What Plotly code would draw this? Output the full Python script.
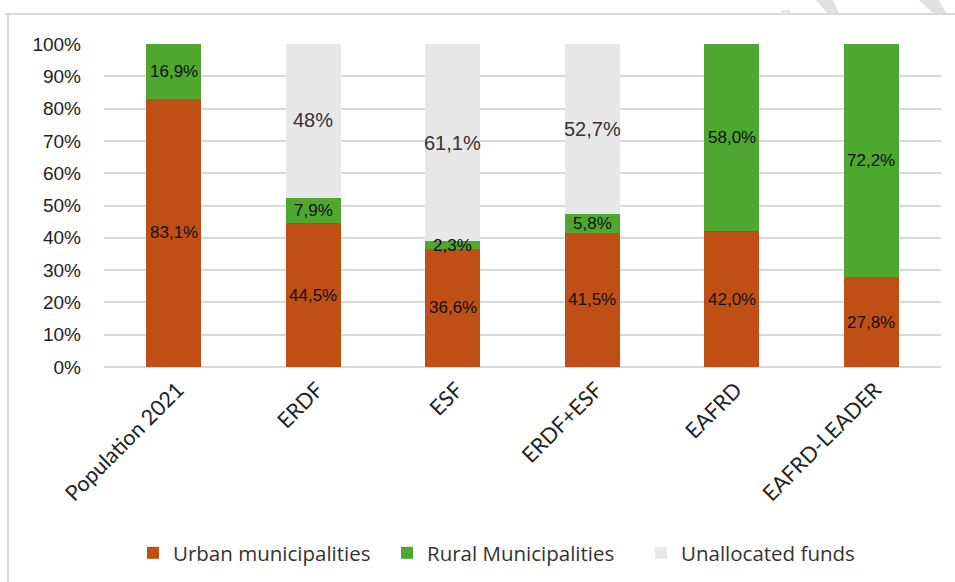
import plotly.graph_objects as go

categories = ["Population 2021", "ERDF", "ESF", "ERDF+ESF", "EAFRD", "EAFRD-LEADER"]
urban = [83.1, 44.5, 36.6, 41.5, 42.0, 27.8]
rural = [16.9, 7.9, 2.3, 5.8, 58.0, 72.2]
unallocated = [0, 48.0, 61.1, 52.7, 0, 0]
unallocated_labels = ["", "48%", "61,1%", "52,7%", "", ""]
tick_vals = [0, 10, 20, 30, 40, 50, 60, 70, 80, 90, 100]
tick_text = [f"{v}%" for v in tick_vals]

C_URBAN = "#C04F15"
C_RURAL = "#4EA72E"
C_UNALL = "#E8E8E8"

W, H = 955, 582
L, R, T, B = 104, 14, 44, 215


def fmt(v):
    return f"{v:.1f}".replace(".", ",") + "%"


fig = go.Figure()
fig.add_trace(go.Bar(name="Urban municipalities", x=categories, y=urban,
                     marker=dict(color=C_URBAN, line=dict(width=0))))
fig.add_trace(go.Bar(name="Rural Municipalities", x=categories, y=rural,
                     marker=dict(color=C_RURAL, line=dict(width=0))))
fig.add_trace(go.Bar(name="Unallocated funds", x=categories, y=unallocated,
                     marker=dict(color=C_UNALL, line=dict(width=0))))

annotations = []
for i, c in enumerate(categories):
    u, r, n = urban[i], rural[i], unallocated[i]
    annotations.append(dict(x=c, y=u / 2, text=fmt(u), showarrow=False,
                            font=dict(family="Liberation Sans Narrow, Liberation Sans, Arial", size=17, color="#111111")))
    annotations.append(dict(x=c, y=u + r / 2, text=fmt(r), showarrow=False,
                            font=dict(family="Liberation Sans Narrow, Liberation Sans, Arial", size=17, color="#111111")))
    if n > 0:
        annotations.append(dict(x=c, y=u + r + n / 2, text=unallocated_labels[i], showarrow=False,
                                font=dict(family="Liberation Sans, Arial", size=20, color="#333333")))

pw, ph = W - L - R, H - T - B


def px(x):
    return (x - L) / pw


def py(y):
    return (H - B - y) / ph


shapes = [
    # outer chart border (top and left visible)
    dict(type="line", xref="paper", yref="paper", x0=px(5), x1=px(W + 5), y0=py(14), y1=py(14),
         line=dict(color="#D9D9D9", width=2), layer="below"),
    dict(type="line", xref="paper", yref="paper", x0=px(8), x1=px(8), y0=py(14), y1=py(H + 5),
         line=dict(color="#D9D9D9", width=2), layer="below"),
    # watermark fragments at the top right
    dict(type="path", xref="paper", yref="paper",
         path=f"M {px(815)},{py(-1)} L {px(832)},{py(-1)} L {px(839)},{py(13)} L {px(827)},{py(13)} Z",
         fillcolor="#E0E0E0", line=dict(width=0), layer="below"),
    dict(type="path", xref="paper", yref="paper",
         path=f"M {px(918)},{py(-1)} L {px(938)},{py(-1)} L {px(946)},{py(13)} L {px(933)},{py(13)} Z",
         fillcolor="#E0E0E0", line=dict(width=0), layer="below"),
    dict(type="line", xref="paper", yref="paper", x0=px(781), x1=px(790), y0=py(13), y1=py(11),
         line=dict(color="#E6E6E6", width=4), layer="below"),
]

fig.update_layout(
    width=W, height=H,
    margin=dict(l=L, r=R, t=T, b=B, autoexpand=False),
    barmode="stack",
    bargap=0.605,
    plot_bgcolor="white",
    paper_bgcolor="white",
    showlegend=True,
    legend=dict(orientation="h", x=px(133), xanchor="left", y=py(553), yanchor="middle",
                font=dict(family="Open Sans, Noto Sans, sans-serif", size=20.5, color="#333333"),
                itemwidth=30, entrywidth=209, entrywidthmode="pixels",
                tracegroupgap=0, traceorder="normal"),
    annotations=annotations,
    shapes=shapes,
    xaxis=dict(tickangle=-45, tickfont=dict(family="Lato, Open Sans, sans-serif", size=21.5, color="#222222"),
               showgrid=False, showline=False, ticks="", automargin=False,
               ticklabelstandoff=5, ticklabelshift=4),
    yaxis=dict(range=[0, 100], tickvals=tick_vals, ticktext=tick_text,
               tickfont=dict(family="Liberation Sans, Arial", size=19, color="#222222"),
               showgrid=True, gridcolor="#D9D9D9", gridwidth=2,
               zeroline=True, zerolinecolor="#D9D9D9", zerolinewidth=2,
               showline=False, ticks="", ticklabelstandoff=22, automargin=False, fixedrange=True),
)

fig.write_html("out.html")
